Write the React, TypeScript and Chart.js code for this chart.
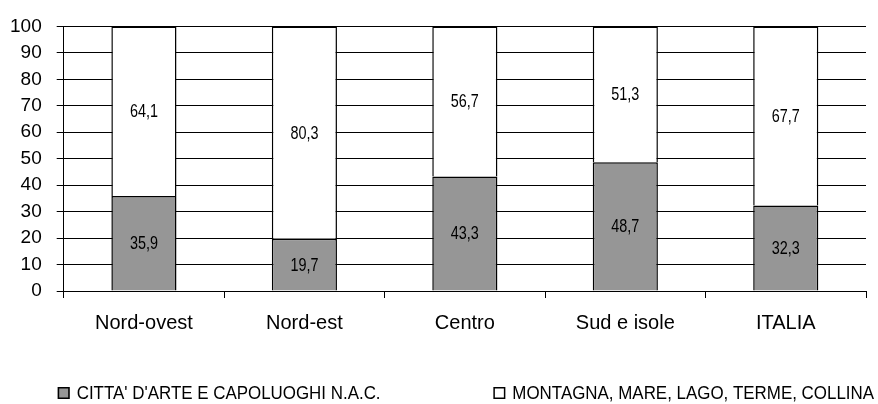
import React, { useEffect, useRef } from "react";
import { Chart, registerables } from "chart.js";

Chart.register(...registerables);

const categories = ["Nord-ovest", "Nord-est", "Centro", "Sud e isole", "ITALIA"];
const cittaValues = [35.9, 19.7, 43.3, 48.7, 32.3];
const montagnaValues = [64.1, 80.3, 56.7, 51.3, 67.7];
const seriesNames = ["CITTA' D'ARTE E CAPOLUOGHI N.A.C.", "MONTAGNA, MARE, LAGO, TERME, COLLINA"];
const yMin = 0;
const yMax = 100;
const yStep = 10;

const SANS = "'Liberation Sans', Arial, sans-serif";

const valueLabels = {
  id: "valueLabels",
  afterDatasetsDraw(chart: any) {
    const ctx = chart.ctx;
    const sx = 0.8;
    chart.data.datasets.forEach((ds: any, di: number) => {
      const meta = chart.getDatasetMeta(di);
      meta.data.forEach((el: any, i: number) => {
        const v = ds.data[i];
        const yc = (el.y + el.base) / 2;
        ctx.save();
        ctx.font = `18px ${SANS}`;
        ctx.fillStyle = "#000";
        ctx.textAlign = "center";
        ctx.textBaseline = "middle";
        ctx.translate(el.x, yc);
        ctx.scale(sx, 1);
        ctx.fillText(v.toFixed(1).replace(".", ","), 0, 1);
        ctx.restore();
      });
    });
  },
};

const customLegend = {
  id: "customLegend",
  afterDraw(chart: any) {
    const ctx = chart.ctx;
    const area = chart.chartArea;
    const sx = 0.94;
    const box = 12;
    const gapText = 7;
    const y = area.bottom + 102;
    ctx.save();
    ctx.font = `18px ${SANS}`;
    const textW = seriesNames.map((n) => ctx.measureText(n).width * sx);
    const starts = [area.left - 6, area.right + 8 - textW[1] - gapText - box];
    chart.data.datasets.forEach((ds: any, i: number) => {
      const x = starts[i];
      ctx.fillStyle = ds.backgroundColor;
      ctx.fillRect(x, y - box / 2, box, box);
      ctx.strokeStyle = "#000";
      ctx.lineWidth = 1.5;
      ctx.strokeRect(x + 0.75, y - box / 2 + 0.75, box - 1.5, box - 1.5);
      ctx.save();
      ctx.fillStyle = "#000";
      ctx.textBaseline = "middle";
      ctx.textAlign = "left";
      ctx.translate(x + box + gapText, y + 1);
      ctx.scale(sx, 1);
      ctx.fillText(seriesNames[i], 0, 0);
      ctx.restore();
    });
    ctx.restore();
  },
};

export default function App() {
  const ref = useRef<HTMLCanvasElement>(null);
  useEffect(() => {
    document.body.style.margin = "0";
    const chart = new Chart(ref.current!, {
      type: "bar",
      data: {
        labels: categories,
        datasets: [
          {
            label: seriesNames[0],
            data: cittaValues,
            backgroundColor: "#969696",
            borderColor: "#000",
            borderWidth: 1.5,
            categoryPercentage: 1,
            barPercentage: 0.406,
          },
          {
            label: seriesNames[1],
            data: montagnaValues,
            backgroundColor: "#ffffff",
            borderColor: "#000",
            borderWidth: 1.5,
            categoryPercentage: 1,
            barPercentage: 0.406,
          },
        ],
      },
      options: {
        responsive: false,
        animation: false,
        layout: { padding: { top: 12.5, right: 12, left: -5, bottom: 56 } },
        plugins: { legend: { display: false }, tooltip: { enabled: false } },
        scales: {
          x: {
            stacked: true,
            grid: { display: true, drawOnChartArea: false, tickLength: 7, color: "#000", offset: true },
            border: { color: "#000", width: 1 },
            ticks: { color: "#000", font: { family: SANS, size: 20 }, padding: 13 },
          },
          y: {
            stacked: true,
            min: yMin,
            max: yMax,
            grid: { color: "#000", tickLength: 7, lineWidth: 1 },
            border: { color: "#000", width: 1 },
            ticks: { stepSize: yStep, color: "#000", font: { family: SANS, size: 19 }, padding: 15 },
          },
        },
      },
      plugins: [valueLabels, customLegend],
    });
    return () => chart.destroy();
  }, []);
  return (
    <div style={{ width: 878, height: 404 }}>
      <canvas ref={ref} width={878} height={404} />
    </div>
  );
}
